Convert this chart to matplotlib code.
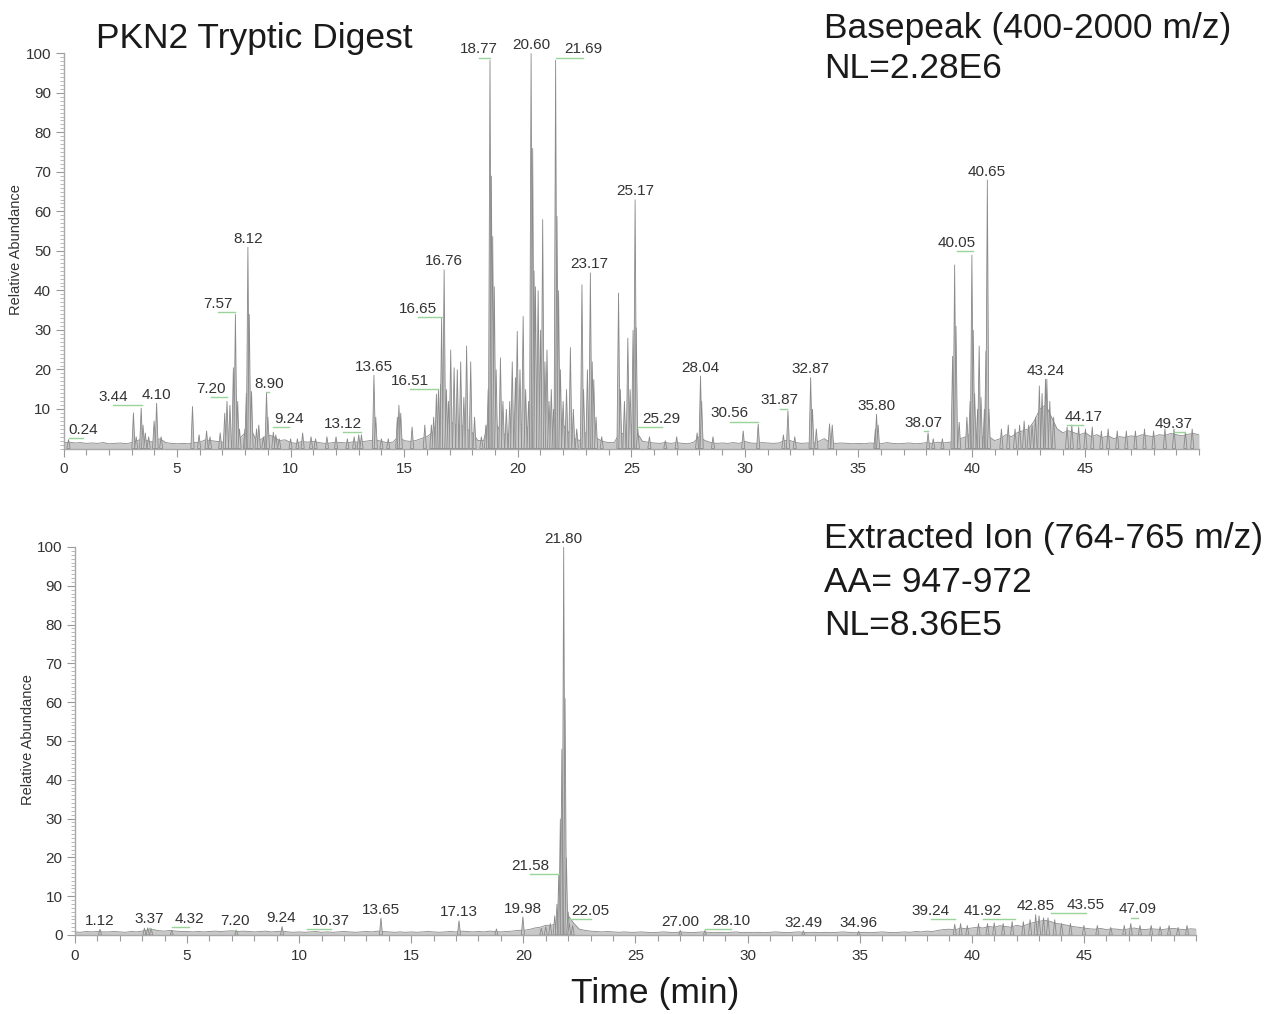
import numpy as np
import matplotlib
matplotlib.use('Agg')
import matplotlib.pyplot as plt
from matplotlib.ticker import MultipleLocator

plt.rcParams['font.family'] = ['Liberation Sans', 'DejaVu Sans']

# ---- top: base peak chromatogram (400-2000 m/z) ----
top_base_t = np.arange(0, 50.01, 0.25)
top_base_h = [
    1.5, 1.6, 1.4, 1.5, 1.3, 1.4, 1.3, 1.5, 1.2, 1.3, 1.4, 1.2, 1.5, 2.0, 2.5, 1.8, 1.6, 2.5, 1.5, 1.3,
    1.2, 1.3, 1.2, 1.5, 1.6, 2.2, 2.0, 1.8, 1.6, 2.0, 1.8, 2.5, 4.0, 5.0, 1.8, 2.5, 3.5, 3.0, 2.0, 2.2,
    1.5, 1.3, 1.8, 1.6, 1.8, 1.5, 1.3, 1.4, 1.6, 1.5, 1.4, 1.7, 1.6, 1.8, 2.0, 2.2, 1.8, 1.5, 1.6, 3.0,
    2.0, 1.8, 2.0, 2.5, 3.0, 4.0, 7.0, 8.0, 7.0, 6.0, 6.0, 5.0, 4.0, 2.0, 2.0, 8.0, 7.0, 4.0, 3.5, 4.0,
    6.0, 6.0, 5.0, 9.0, 7.0, 5.0, 4.0, 10.0, 6.0, 4.0, 2.5, 2.0, 4.0, 6.0, 2.5, 1.8, 1.5, 1.5, 4.0, 3.5,
    6.0, 4.0, 1.8, 1.6, 1.4, 1.3, 1.5, 1.3, 1.5, 1.3, 1.2, 1.6, 3.0, 2.0, 1.5, 1.3, 1.4, 1.3, 1.5, 1.3,
    1.8, 1.4, 1.3, 1.5, 1.4, 1.3, 1.4, 2.0, 2.0, 1.5, 1.3, 1.4, 1.3, 1.8, 2.5, 1.5, 1.3, 1.4, 1.3, 1.2,
    1.3, 1.2, 1.4, 1.3, 1.2, 1.5, 1.3, 1.2, 1.3, 1.4, 1.2, 1.3, 1.5, 1.3, 1.6, 1.4, 1.6, 1.8, 2.5, 3.0,
    4.0, 3.0, 3.0, 3.0, 2.0, 2.5, 3.5, 3.0, 4.0, 4.5, 5.0, 7.0, 10.0, 11.0, 8.0, 5.0, 4.0, 4.5, 4.0, 3.5,
    4.0, 3.0, 3.5, 2.8, 3.2, 2.5, 3.0, 2.8, 3.2, 3.0, 3.5, 3.2, 3.0, 3.5, 3.3, 3.8, 3.5, 3.2, 3.6, 3.8,
    3.5,
]
top_peak_t = [
    0.22, 3.08, 3.2, 3.42, 3.5, 3.6, 3.75, 3.99, 4.10, 4.3, 5.68, 5.97, 6.3, 6.45, 6.9,
    7.1, 7.20, 7.33, 7.48, 7.57, 7.67, 7.75, 7.99, 8.05, 8.12, 8.18, 8.28, 8.5, 8.6, 8.8,
    8.94, 9.0, 9.24, 9.35, 9.5, 10.0, 10.3, 10.53, 10.9, 11.1, 11.6, 12.0, 12.5, 12.8, 13.0,
    13.12, 13.67, 13.75, 14.0, 14.3, 14.7, 14.77, 14.85, 15.35, 15.91, 16.2, 16.3, 16.42, 16.51, 16.6,
    16.65, 16.76, 16.86, 16.95, 17.05, 17.2, 17.34, 17.49, 17.63, 17.75, 17.93, 18.1, 18.4, 18.6, 18.7,
    18.78, 18.84, 18.9, 18.97, 19.05, 19.24, 19.35, 19.5, 19.65, 19.76, 19.9, 19.98, 20.1, 20.24, 20.35,
    20.48, 20.59, 20.66, 20.72, 20.78, 20.9, 21.0, 21.1, 21.2, 21.29, 21.38, 21.48, 21.58, 21.67, 21.73,
    21.8, 21.88, 22.0, 22.15, 22.32, 22.45, 22.6, 22.83, 22.9, 23.07, 23.2, 23.28, 23.35, 23.45, 23.7,
    24.44, 24.52, 24.7, 24.85, 24.95, 25.08, 25.17, 25.22, 25.29, 25.8, 26.5, 27.0, 27.9, 28.05, 28.1,
    28.6, 29.93, 30.59, 31.7, 31.9, 32.2, 32.9, 32.98, 33.15, 33.73, 33.85, 35.75, 35.8, 35.87, 38.07,
    38.3, 38.7, 39.15, 39.24, 39.3, 39.44, 39.78, 39.92, 40.0, 40.06, 40.12, 40.25, 40.32, 40.4, 40.55,
    40.62, 40.68, 40.75, 41.3, 41.6, 41.9, 42.1, 42.3, 42.5, 42.65, 42.8, 42.97, 43.09, 43.24, 43.3,
    43.43, 43.6, 44.19, 44.4, 44.7, 45.0, 45.3, 45.7, 46.0, 46.4, 46.8, 47.2, 47.6, 48.0, 48.5,
    48.9, 49.4, 49.7,
]
top_peak_h = [
    2.3, 9.1, 3.0, 10.3, 6.0, 4.0, 3.0, 7.0, 11.5, 3.0, 10.7, 3.5, 4.5, 3.0, 4.0,
    9.0, 12.0, 11.0, 20.5, 34.0, 12.0, 5.0, 5.0, 14.0, 51.0, 34.0, 14.5, 5.0, 6.0, 3.0,
    14.3, 8.0, 4.2, 3.5, 2.5, 2.5, 2.5, 4.0, 3.0, 2.5, 3.0, 3.0, 2.5, 3.0, 3.5,
    3.5, 18.6, 8.0, 2.5, 2.5, 8.0, 11.0, 9.0, 5.5, 6.0, 6.0, 8.0, 13.8, 15.0, 16.3,
    33.0, 45.3, 15.0, 12.0, 25.0, 20.5, 20.0, 22.0, 13.0, 26.0, 22.0, 8.0, 3.0, 6.0, 15.0,
    98.3, 69.0, 53.7, 41.0, 20.0, 23.0, 12.0, 10.0, 12.0, 22.0, 18.0, 29.7, 20.0, 33.5, 15.0,
    12.0, 100.0, 76.0, 45.0, 41.0, 40.0, 30.0, 58.0, 22.0, 25.0, 12.0, 15.0, 10.0, 98.3, 58.8,
    40.0, 20.0, 12.0, 15.0, 25.6, 10.0, 5.0, 41.5, 15.0, 20.0, 44.5, 22.0, 17.5, 8.0, 3.0,
    39.4, 15.0, 12.0, 28.0, 15.0, 30.0, 63.0, 30.6, 5.0, 3.0, 2.0, 3.0, 4.0, 18.4, 12.0,
    3.0, 4.5, 6.2, 3.5, 9.6, 3.0, 18.0, 10.0, 5.0, 6.3, 6.0, 5.0, 8.7, 6.0, 4.0,
    2.5, 2.5, 23.4, 46.5, 31.0, 6.7, 8.0, 12.0, 49.0, 30.0, 14.0, 10.0, 26.0, 13.0, 10.0,
    24.7, 68.0, 10.0, 5.0, 6.0, 5.0, 6.0, 7.0, 6.0, 6.0, 8.0, 15.9, 14.0, 17.6, 17.6,
    12.0, 8.0, 5.5, 6.0, 5.5, 5.0, 5.5, 4.5, 5.0, 4.5, 4.5, 4.5, 5.0, 4.5, 5.0,
    5.0, 4.2, 5.0,
]
top_labels = ['0.24', '3.44', '4.10', '7.20', '7.57', '8.12', '8.90', '9.24', '13.12', '13.65',
              '16.51', '16.65', '16.76', '18.77', '20.60', '21.69', '23.17', '25.17', '25.29', '28.04',
              '30.56', '31.87', '32.87', '35.80', '38.07', '40.05', '40.65', '43.24', '44.17', '49.37']
top_label_x = [0.88, 2.2, 4.10, 6.48, 6.82, 8.12, 9.06, 9.94, 12.29, 13.65,
               15.25, 15.6, 16.76, 18.29, 20.60, 22.87, 23.17, 25.17, 26.34, 28.04,
               29.34, 31.54, 32.87, 35.80, 37.87, 39.34, 40.65, 43.24, 44.9, 48.9]
top_label_y = [2.7, 11.0, 11.5, 13.0, 34.5, 51.0, 14.3, 5.4, 4.2, 18.6,
               15.0, 33.3, 45.3, 98.9, 100.0, 98.9, 44.5, 63.0, 5.5, 18.4,
               6.8, 10.1, 18.0, 8.7, 4.5, 50.0, 68.0, 17.6, 6.0, 4.2]

# ---- bottom: extracted ion chromatogram (764-765 m/z) ----
bot_base_t = np.arange(0, 50.01, 0.25)
bot_base_h = [
    0.8, 0.7, 0.9, 0.8, 0.9, 0.8, 0.8, 0.9, 0.8, 0.7, 0.9, 0.8, 1.0, 1.3, 1.4, 1.1, 1.0, 1.2, 1.0, 0.9,
    0.9, 0.8, 0.9, 0.8, 0.9, 1.0, 0.9, 1.0, 1.1, 0.9, 1.0, 0.9, 0.8, 0.9, 1.0, 0.8, 0.9, 1.0, 0.8, 0.7,
    0.8, 0.7, 0.8, 0.9, 0.7, 0.8, 0.7, 0.8, 0.9, 0.8, 0.7, 0.8, 0.9, 0.8, 1.0, 0.9, 0.8, 0.7, 0.8, 0.7,
    0.8, 0.7, 0.8, 0.9, 0.8, 0.7, 0.8, 0.9, 0.8, 1.0, 0.9, 0.8, 0.9, 0.8, 1.0, 0.9, 0.8, 0.9, 1.0, 1.2,
    1.2, 1.4, 1.8, 2.0, 2.5, 2.5, 3.0, 5.0, 5.0, 3.0, 1.5, 1.2, 1.0, 0.9, 0.8, 0.9, 0.8, 0.7, 0.8, 0.7,
    0.7, 0.8, 0.7, 0.6, 0.7, 0.8, 0.7, 0.6, 0.8, 0.7, 0.6, 0.7, 0.8, 0.7, 0.6, 0.7, 0.6, 0.7, 0.8, 0.6,
    0.7, 0.6, 0.7, 0.6, 0.7, 0.8, 0.7, 0.6, 0.7, 0.8, 0.7, 0.6, 0.7, 0.6, 0.7, 0.6, 0.7, 0.8, 0.7, 0.6,
    0.6, 0.7, 0.6, 0.7, 0.8, 0.7, 0.6, 0.7, 0.8, 0.7, 0.9, 0.8, 1.0, 0.9, 1.2, 1.4, 1.5, 1.3, 1.8, 1.6,
    1.8, 2.0, 1.8, 2.2, 2.0, 2.4, 2.2, 2.0, 2.5, 2.2, 2.8, 3.2, 3.5, 3.8, 3.5, 3.0, 2.8, 2.5, 2.2, 2.0,
    1.8, 1.6, 1.5, 1.7, 1.4, 1.6, 1.5, 1.3, 1.6, 1.8, 1.5, 1.4, 1.6, 1.5, 1.4, 1.6, 1.7, 1.5, 1.4, 1.6,
    1.5,
]
bot_peak_t = [
    1.12, 3.1, 3.25, 3.4, 4.32, 7.2, 9.24, 13.65, 17.13, 18.8, 19.98, 20.8, 21.0, 21.2, 21.4,
    21.5, 21.58, 21.65, 21.72, 21.80, 21.86, 21.92, 22.0, 22.05, 22.2, 27.0, 28.1, 32.49, 34.96, 39.24,
    39.5, 39.8, 40.3, 40.7, 41.0, 41.4, 41.8, 42.3, 42.6, 42.85, 43.0, 43.2, 43.4, 43.7, 44.0,
    44.4, 45.0, 45.6, 46.2, 46.8, 47.09, 47.5, 48.0, 48.4, 48.8, 49.2, 49.6,
]
bot_peak_h = [
    1.5, 1.8, 1.9, 1.7, 1.2, 1.3, 2.2, 4.4, 3.7, 1.6, 4.7, 1.8, 2.2, 3.0, 5.0,
    8.0, 15.5, 30.0, 48.0, 100.0, 61.0, 20.0, 6.0, 3.0, 2.5, 1.2, 1.2, 1.1, 1.0, 2.8,
    3.0, 2.5, 3.0, 3.0, 3.2, 3.0, 3.5, 3.5, 4.0, 5.3, 5.0, 4.5, 4.5, 4.0, 3.0,
    3.0, 2.5, 2.5, 2.0, 2.5, 3.0, 2.5, 2.5, 2.2, 2.5, 2.0, 2.5,
]
bot_labels = ['1.12', '3.37', '4.32', '7.20', '9.24', '10.37', '13.65', '17.13', '19.98', '21.58',
              '21.80', '22.05', '27.00', '28.10', '32.49', '34.96', '39.24', '41.92', '42.85', '43.55',
              '47.09']
bot_label_x = [1.12, 3.3, 5.1, 7.13, 9.2, 11.43, 13.65, 17.13, 19.98, 20.3,
               21.80, 23.0, 27.00, 29.27, 32.49, 34.96, 38.16, 40.49, 42.85, 45.08,
               47.41]
bot_label_y = [1.6, 1.9, 2.0, 1.4, 2.3, 1.5, 4.4, 3.7, 4.7, 15.7,
               100.0, 4.0, 1.3, 1.6, 1.1, 1.0, 4.0, 4.0, 5.3, 5.6,
               4.5]

FACE = '#c8c8c8'
EDGE = '#8a8a8a'
LEADER = '#9ad49a'
HALF_W = 0.07
W, H = 1283, 1014

fig = plt.figure(figsize=(W / 100, H / 100), dpi=100)
ax_top = fig.add_axes([63.5 / W, 1 - 448.5 / H, 1135.5 / W, 395.2 / H])
ax_bot = fig.add_axes([74.9 / W, 1 - 935 / H, 1121.1 / W, 388 / H])


def draw_trace(ax, base_t, base_h, peak_t, peak_h, labels, label_x, label_y, yticks):
    ax.fill_between(base_t, 0, base_h, color=FACE, lw=0, zorder=1)
    ax.plot(base_t, base_h, color=EDGE, lw=0.6, zorder=2)
    for t, h in zip(peak_t, peak_h):
        ax.fill([t - HALF_W, t, t + HALF_W], [0, h, 0], facecolor=FACE,
                edgecolor=EDGE, lw=0.6, zorder=2, clip_on=False)
    for lab, lx, ly in zip(labels, label_x, label_y):
        pt = float(lab)
        if abs(lx - pt) > 0.05:
            ax.plot([min(lx, pt), max(lx, pt)], [ly, ly], color=LEADER, lw=1.0, zorder=3)
        ax.annotate(lab, (lx, ly), xytext=(0, 3), textcoords='offset points',
                    ha='center', va='baseline', fontsize=11, color='#333333',
                    annotation_clip=False)

    ax.set_xlim(0, 50)
    ax.set_ylim(0, 100)
    ax.set_facecolor('none')
    for side in ('top', 'right'):
        ax.spines[side].set_visible(False)
    for side in ('left', 'bottom'):
        ax.spines[side].set_color('#a8a8a8')
        ax.spines[side].set_linewidth(1.0)
    ax.set_xticks([0, 5, 10, 15, 20, 25, 30, 35, 40, 45])
    ax.xaxis.set_minor_locator(MultipleLocator(1))
    ax.set_yticks(yticks)
    ax.yaxis.set_minor_locator(MultipleLocator(1))
    ax.tick_params(axis='both', which='major', colors='#9a9a9a', labelcolor='#333333',
                   labelsize=11, width=0.8)
    ax.tick_params(axis='x', which='major', length=6, pad=4)
    ax.tick_params(axis='x', which='minor', length=4.5, colors='#9a9a9a', width=0.8)
    ax.tick_params(axis='y', which='major', length=6, pad=3)
    ax.tick_params(axis='y', which='minor', length=3, colors='#b0b0b0', width=0.6)


draw_trace(ax_top, top_base_t, top_base_h, top_peak_t, top_peak_h,
           top_labels, top_label_x, top_label_y, list(range(10, 101, 10)))
draw_trace(ax_bot, bot_base_t, bot_base_h, bot_peak_t, bot_peak_h,
           bot_labels, bot_label_x, bot_label_y, list(range(0, 101, 10)))

# titles / annotations
big = dict(fontsize=25.5, color='#1a1a1a', va='baseline', ha='left')
fig.text(96 / W, 1 - 48 / H, 'PKN2 Tryptic Digest', **big)
fig.text(824 / W, 1 - 38 / H, 'Basepeak (400-2000 m/z)', **big)
fig.text(824 / W, 1 - 78 / H, 'NL=2.28E6', **big)
fig.text(824 / W, 1 - 548 / H, 'Extracted Ion (764-765 m/z)', **big)
fig.text(824 / W, 1 - 592 / H, 'AA= 947-972', **big)
fig.text(824 / W, 1 - 635 / H, 'NL=8.36E5', **big)
fig.text(655 / W, 1 - 1003 / H, 'Time (min)', fontsize=25.5, color='#1a1a1a',
         ha='center', va='baseline')
fig.text(16.5 / W, 1 - 250 / H, 'Relative Abundance', rotation=90, fontsize=10.5,
         color='#333333', ha='center', va='center')
fig.text(28 / W, 1 - 740 / H, 'Relative Abundance', rotation=90, fontsize=10.5,
         color='#333333', ha='center', va='center')

fig.savefig('out.png', dpi=100, facecolor='white')
